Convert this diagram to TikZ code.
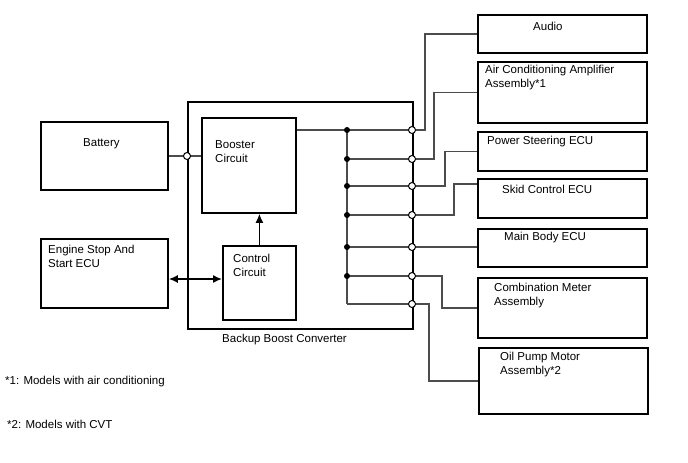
\documentclass[tikz,border=0pt]{standalone}
\usepackage{fontspec}
\setmainfont{Liberation Sans}
\usetikzlibrary{arrows.meta}
\begin{document}
\begin{tikzpicture}[x=1pt,y=-1pt,>={Latex[length=9pt,width=8pt]},
  box/.style={draw,line width=1.8pt,anchor=north west,inner sep=0pt},
  txt/.style={inner sep=0pt,anchor=west,align=left,font=\fontsize{11.5}{14}\selectfont},
  wire/.style={draw=black!70,line width=1.5pt},
  open/.style={circle,draw,fill=white,line width=1pt,inner sep=0pt,minimum size=7pt},
  dot/.style={circle,fill,inner sep=0pt,minimum size=6pt}]
\useasboundingbox (0,0) rectangle (688,463);

\node[box,minimum width=127pt,minimum height=68pt] (bat) at (40,121) {};
\node[box,minimum width=127pt,minimum height=69pt] (ess) at (40,238) {};
\node[box,minimum width=225pt,minimum height=227pt] (bbc) at (187,101) {};
\node[box,minimum width=94pt,minimum height=95pt] (boost) at (201,117) {};
\node[box,minimum width=73pt,minimum height=74pt] (ctrl) at (222,245) {};
\node[box,minimum width=169pt,minimum height=38pt] (audio) at (477,14) {};
\node[box,minimum width=169pt,minimum height=61pt] (acamp) at (477,61) {};
\node[box,minimum width=169pt,minimum height=39pt] (pseu) at (477,131) {};
\node[box,minimum width=169pt,minimum height=39pt] (skid) at (477,178) {};
\node[box,minimum width=169pt,minimum height=38pt] (mbody) at (477,228) {};
\node[box,minimum width=169pt,minimum height=60pt] (cmeter) at (477,277) {};
\node[box,minimum width=169pt,minimum height=66pt] (oilp) at (478,347) {};

\coordinate (jb) at (187,156);
\foreach \y in {130,159,186,215,247,276,304} {
  \coordinate (j\y) at (412,\y);
  \coordinate (b\y) at (347,\y);
}

\draw[wire] (bat.east |- jb) -- (boost.west |- jb);
\draw[wire] (boost.east |- b130) -- (j130);
\foreach \y in {159,186,215,247,276,304}
  \draw[wire] (b\y) -- (j\y);
\draw[wire] (b130) -- (b304);

\draw[wire] (j130) -- (425,130) |- (audio.west);
\draw[wire] (j159) -- (434,159) |- (acamp.west);
\draw[wire] (j186) -- (445,186) |- (pseu.west);
\draw[wire] (j215) -- (454,215) |- (skid.west |- 0,184);
\draw[wire] (j247) -- (mbody.west |- j247);
\draw[wire] (j276) -- (442,276) |- (cmeter.west);
\draw[wire] (j304) -- (429,304) |- (oilp.west);

\draw[->,line width=1.5pt] (ctrl.north) -- (boost.south -| ctrl.north);
\draw[<->,line width=1.5pt] (ess.east |- 0,279) -- (ctrl.west |- 0,279);

\node[open] (ob) at (jb) {};
\foreach \y in {130,159,186,215,247,276,304}
  \node[open] (o\y) at (j\y) {};
\foreach \y in {130,159,186,215,247,276}
  \node[dot] (d\y) at (b\y) {};

\node[txt] (tbat) at (83,144) {Battery};
\node[txt] (tess) at (48,256) {Engine Stop And\\Start ECU};
\node[txt] (tboost) at (215,152) {Booster\\Circuit};
\node[txt] (tctrl) at (233,265) {Control\\Circuit};
\node[txt] (tbbc) at (222,340) {Backup Boost Converter};
\node[txt] (taudio) at (533,26) {Audio};
\node[txt] (tacamp) at (485,78) {Air Conditioning Amplifier\\Assembly*1};
\node[txt] (tpseu) at (487,142) {Power Steering ECU};
\node[txt] (tskid) at (502,189) {Skid Control ECU};
\node[txt] (tmbody) at (504,238) {Main Body ECU};
\node[txt] (tcmeter) at (494,296) {Combination Meter\\Assembly};
\node[txt] (toilp) at (500,365) {Oil Pump Motor\\Assembly*2};
\node[txt] (fn1) at (5,382) {*1: Models with air conditioning};
\node[txt] (fn2) at (7,424) {*2: Models with CVT};
\end{tikzpicture}
\end{document}
